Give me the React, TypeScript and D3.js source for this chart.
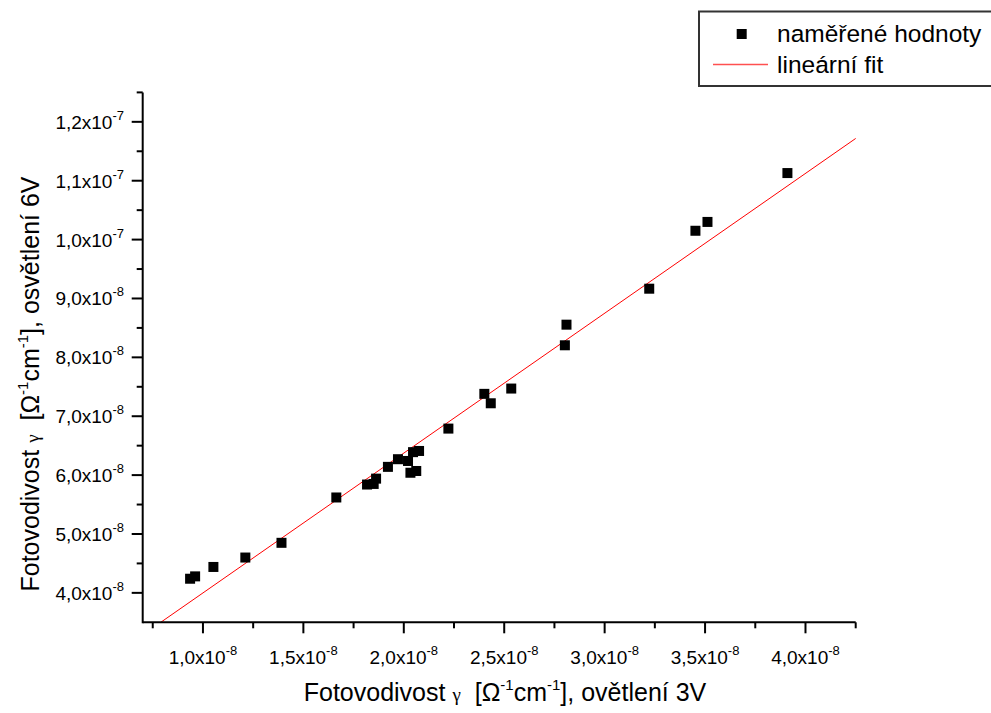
import React from "react";
import * as d3 from "d3";

// values in units of 1e-8 (Ω^-1 cm^-1)
const xValues3V = [0.936, 0.961, 1.052, 1.211, 1.391, 1.664, 1.817, 1.850, 1.862, 1.921, 1.971, 2.021, 2.046, 2.076, 2.033, 2.062, 2.222, 2.401, 2.433, 2.535, 2.802, 2.810, 3.222, 3.452, 3.512, 3.910];
const yValues6V = [4.24, 4.28, 4.44, 4.60, 4.85, 5.62, 5.84, 5.85, 5.94, 6.14, 6.27, 6.24, 6.39, 6.41, 6.04, 6.07, 6.79, 7.38, 7.22, 7.47, 8.205, 8.555, 9.166, 10.15, 10.30, 11.13];

const fitIntercept = 1.624;
const fitSlope = 2.375;

const xMajorTicks = [1.0, 1.5, 2.0, 2.5, 3.0, 3.5, 4.0];
const xMinorTicks = [0.75, 1.25, 1.75, 2.25, 2.75, 3.25, 3.75, 4.25];
const yMajorTicks = [4, 5, 6, 7, 8, 9, 10, 11, 12];
const yMinorTicks = [4.5, 5.5, 6.5, 7.5, 8.5, 9.5, 10.5, 11.5, 12.5];

const legendLabels = ["naměřené hodnoty", "lineární fit"];
const xTitle = ["Fotovodivost ", "γ", "  [Ω", "-1", "cm", "-1", "], ovětlení 3V"];
const yTitle = ["Fotovodivost ", "γ", "  [Ω", "-1", "cm", "-1", "], osvětlení 6V"];

const FONT = "'Liberation Sans', Arial, sans-serif";

function fmt(v: number): [string, string] {
  let mant = v;
  let exp = -8;
  if (v >= 10) {
    mant = v / 10;
    exp = -7;
  }
  return [mant.toFixed(1).replace(".", ",") + "x10", String(exp)];
}

function Title({ parts, x, y, rotate }: { parts: string[]; x: number; y: number; rotate?: boolean }) {
  const fs = 25;
  return (
    <text
      x={x}
      y={y}
      textAnchor="middle"
      fontFamily={FONT}
      fontSize={fs}
      fill="#000"
      style={{ whiteSpace: "pre" }}
      transform={rotate ? `rotate(-90 ${x} ${y})` : undefined}
    >
      <tspan>{parts[0]}</tspan>
      <tspan fontFamily="'Liberation Serif', serif" fontSize={19}>{parts[1]}</tspan>
      <tspan>{parts[2]}</tspan>
      <tspan fontSize={15} dy={-11}>{parts[3]}</tspan>
      <tspan dy={11}>{parts[4]}</tspan>
      <tspan fontSize={15} dy={-11}>{parts[5]}</tspan>
      <tspan dy={11}>{parts[6]}</tspan>
    </text>
  );
}

export default function App() {
  const W = 991;
  const H = 713;
  const x = d3.scaleLinear().domain([0.7, 4.25]).range([142.7, 855.7]);
  const y = d3.scaleLinear().domain([3.5, 12.5]).range([622.3, 92.4]);
  const [x0, x1] = x.domain();
  const [y0] = y.domain();
  const fitStart = (y0 - fitIntercept) / fitSlope;
  const fitPts: [number, number][] = [
    [fitStart, fitIntercept + fitSlope * fitStart],
    [x1, fitIntercept + fitSlope * x1],
  ];
  const line = d3
    .line<[number, number]>()
    .x((d) => x(d[0]))
    .y((d) => y(d[1]));
  const ms = 10;
  const axisW = 2;

  return (
    <svg
      width={W}
      height={H}
      style={{ position: "absolute", left: 0, top: 0, background: "#fff" }}
    >
      <rect x={0} y={0} width={W} height={H} fill="#fff" />
      <path d={line(fitPts) || ""} stroke="#ff0000" strokeWidth={1} fill="none" />
      {xValues3V.map((xv, i) => (
        <rect
          key={i}
          x={x(xv) - ms / 2}
          y={y(yValues6V[i]) - ms / 2}
          width={ms}
          height={ms}
          fill="#000"
        />
      ))}
      <line x1={x(x0)} x2={x(x1)} y1={y(y0)} y2={y(y0)} stroke="#000" strokeWidth={axisW} />
      <line x1={x(x0)} x2={x(x0)} y1={y(y0) + 1} y2={y(12.5)} stroke="#000" strokeWidth={axisW} />
      {xMajorTicks.map((t) => (
        <line key={"xM" + t} x1={x(t)} x2={x(t)} y1={y(y0)} y2={y(y0) + 11} stroke="#000" strokeWidth={axisW} />
      ))}
      {xMinorTicks.map((t) => (
        <line key={"xm" + t} x1={x(t)} x2={x(t)} y1={y(y0)} y2={y(y0) + 6} stroke="#000" strokeWidth={axisW} />
      ))}
      {yMajorTicks.map((t) => (
        <line key={"yM" + t} x1={x(x0) - 11} x2={x(x0)} y1={y(t)} y2={y(t)} stroke="#000" strokeWidth={axisW} />
      ))}
      {yMinorTicks.map((t) => (
        <line key={"ym" + t} x1={x(x0) - 6} x2={x(x0)} y1={y(t)} y2={y(t)} stroke="#000" strokeWidth={axisW} />
      ))}
      {xMajorTicks.map((t) => {
        const [m, e] = fmt(t);
        return (
          <text key={"xl" + t} x={x(t)} y={664} textAnchor="middle" fontFamily={FONT} fontSize={19} fill="#000">
            <tspan>{m}</tspan>
            <tspan fontSize={13} dy={-9}>{e}</tspan>
          </text>
        );
      })}
      {yMajorTicks.map((t) => {
        const [m, e] = fmt(t);
        return (
          <text key={"yl" + t} x={124} y={y(t) + 7} textAnchor="end" fontFamily={FONT} fontSize={19} fill="#000">
            <tspan>{m}</tspan>
            <tspan fontSize={13} dy={-9}>{e}</tspan>
          </text>
        );
      })}
      <Title parts={xTitle} x={505} y={701} />
      <Title parts={yTitle} x={39} y={384} rotate />
      <rect x={699} y={11.5} width={310} height={74.5} fill="#fff" stroke="#333" strokeWidth={2} />
      <rect x={741.7 - ms / 2} y={34 - ms / 2} width={ms} height={ms} fill="#000" />
      <line x1={713} x2={768} y1={64.5} y2={64.5} stroke="#ff5050" strokeWidth={1.5} />
      <text x={777} y={42} fontFamily={FONT} fontSize={24.5} fill="#000">{legendLabels[0]}</text>
      <text x={777} y={73} fontFamily={FONT} fontSize={24.5} fill="#000">{legendLabels[1]}</text>
    </svg>
  );
}
